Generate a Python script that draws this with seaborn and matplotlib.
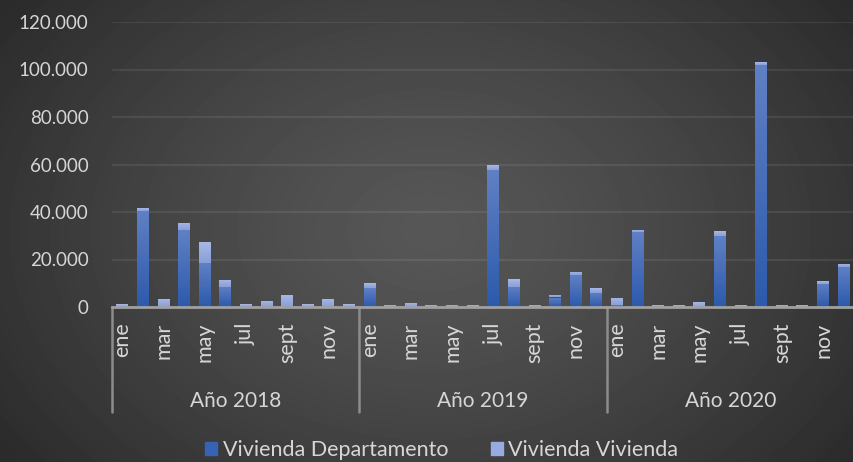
import numpy as np
import pandas as pd
import matplotlib
matplotlib.use("Agg")
import matplotlib.pyplot as plt
import matplotlib.transforms as mtransforms
from matplotlib.colors import LinearSegmentedColormap
from matplotlib.ticker import FuncFormatter
from matplotlib.patches import Patch
import seaborn as sns

# datos
anios = ["Año 2018", "Año 2019", "Año 2020"]
meses = ["ene", "feb", "mar", "abr", "may", "jun", "jul", "ago", "sept", "oct", "nov", "dic"]

departamento = [
    0, 40500, 0, 32300, 18700, 8500, 0, 0, 0, 0, 0, 0,
    7800, 0, 0, 0, 0, 0, 57600, 8600, 0, 4000, 13300, 6100,
    700, 31400, 0, 0, 0, 29700, 0, 101900, 0, 0, 9700, 16900,
]
vivienda = [
    1100, 1200, 3400, 3000, 8500, 3000, 1100, 2600, 5100, 1100, 3400, 1100,
    2100, 1000, 1800, 1000, 1000, 1000, 2100, 3000, 1000, 1200, 1300, 2100,
    3000, 1200, 1000, 1000, 2000, 2100, 1000, 1200, 1000, 1000, 1200, 1300,
]

n = len(departamento)
df = pd.DataFrame({
    "pos": np.arange(n),
    "Vivienda Departamento": departamento,
    "Vivienda Vivienda": vivienda,
})

col_dep = "#3763b5"
col_viv = "#97abe0"
txt = "#d6d6d6"

sns.set_theme(style="white")
plt.rcParams["font.family"] = ["Lato", "DejaVu Sans"]

fig = plt.figure(figsize=(8.54, 4.62), dpi=100)

# fondo con degradado radial
bg = fig.add_axes([0, 0, 1, 1], zorder=-1)
yy, xx = np.mgrid[0:462, 0:854]
r = np.sqrt(((xx - 430) / 520.0) ** 2 + ((yy - 230) / 380.0) ** 2)
r = np.clip(r, 0, 1)
c0, c1 = 0.34, 0.17
img = c0 - (c0 - c1) * r ** 1.3
bg.imshow(img, cmap="gray", vmin=0, vmax=1, aspect="auto", extent=[0, 1, 0, 1])
bg.axis("off")

ax = fig.add_axes([112 / 854, 155 / 462, 742 / 854, 285 / 462])
ax.set_facecolor("none")

sns.barplot(data=df, x="pos", y="Vivienda Departamento", color=col_dep,
            width=0.58, saturation=1, linewidth=0, ax=ax, zorder=3)
sns.barplot(data=df, x="pos", y="Vivienda Vivienda", color=col_viv,
            width=0.58, saturation=1, linewidth=0, ax=ax, zorder=3,
            bottom=np.array(departamento))

# degradado vertical dentro de cada barra
cm_dep = LinearSegmentedColormap.from_list("dep", ["#2c5aac", "#6080c4"])
cm_viv = LinearSegmentedColormap.from_list("viv", ["#889fd9", "#a8b8e7"])
grad = np.linspace(0, 1, 64).reshape(-1, 1)
for k, p in enumerate(list(ax.patches)):
    h = p.get_height()
    if h <= 0:
        continue
    x0, y0, w = p.get_x(), p.get_y(), p.get_width()
    cmap = cm_dep if k < n else cm_viv
    im = ax.imshow(grad, cmap=cmap, origin="lower", aspect="auto",
                   extent=[x0, x0 + w, y0, y0 + h], zorder=3, interpolation="bilinear")
    im.set_clip_path(p)
    p.set_facecolor("none")

ax.set_xlim(-0.5, n - 0.5)
ax.set_ylim(0, 120000)
ax.set_yticks(np.arange(0, 120001, 20000))
ax.yaxis.set_major_formatter(FuncFormatter(lambda v, p: f"{int(v):,}".replace(",", ".")))
ax.tick_params(axis="y", colors=txt, labelsize=13.5, length=0, pad=17)
ax.set_xticks([])
ax.set_xlabel("")
ax.set_ylabel("")
ax.grid(axis="y", color="white", alpha=0.08, lw=1.6, zorder=0)
for s in ["top", "right", "left"]:
    ax.spines[s].set_visible(False)
ax.spines["bottom"].set_color("#a0a0a0")
ax.spines["bottom"].set_linewidth(2)
ax.spines["bottom"].set_zorder(4)

# etiquetas de eje en dos niveles
tr = mtransforms.blended_transform_factory(ax.transData, ax.transAxes)
for i in range(n):
    if i % 2 == 0:
        ax.text(i, -0.055, meses[i % 12], transform=tr, rotation=90,
                ha="center", va="top", color=txt, fontsize=15.5)
for k, a in enumerate(anios):
    ax.text(k * 12 + 5.5, -0.33, a, transform=tr, ha="center", va="center",
            color=txt, fontsize=15)
for k in range(4):
    xk = k * 12 - 0.5
    ax.plot([xk, xk], [0, -0.37], transform=tr, color="#8c8c8c", lw=1.8,
            clip_on=False)

handles = [Patch(color=col_dep, label="Vivienda Departamento"),
           Patch(color=col_viv, label="Vivienda Vivienda")]
fig.legend(handles=handles, loc="center", bbox_to_anchor=(442 / 854, 12 / 462),
           ncol=2, frameon=False, fontsize=15.5, labelcolor=txt,
           handlelength=0.55, handleheight=0.55, handletextpad=0.25,
           columnspacing=2.0)

fig.savefig("out.png", dpi=100)
